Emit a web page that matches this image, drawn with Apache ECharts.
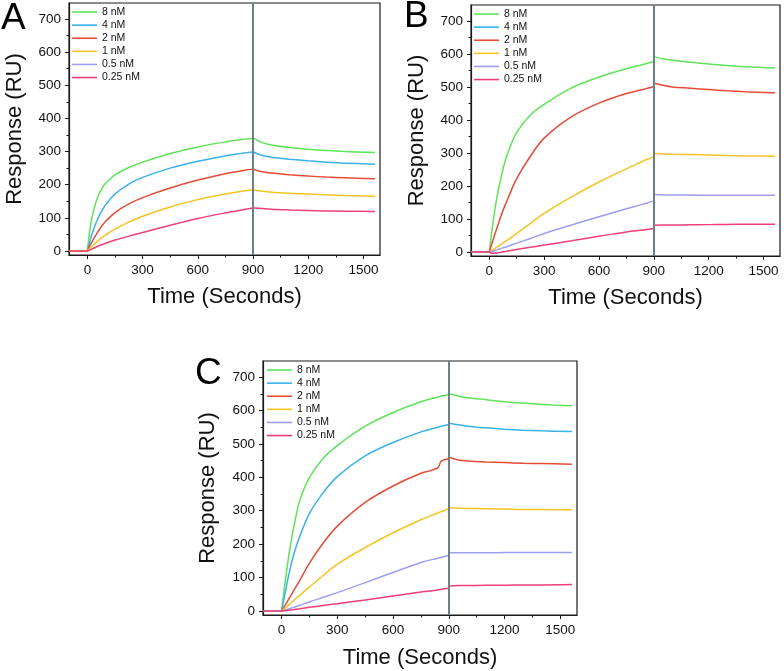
<!DOCTYPE html>
<html>
<head>
<meta charset="utf-8">
<script src="https://cdn.jsdelivr.net/npm/echarts@6/dist/echarts.min.js"></script>
<style>html,body{margin:0;padding:0;background:#fff;}#c{width:784px;height:671px;}</style>
</head>
<body>
<div id="c"></div>
<script>
// ---- data ----
// sample times (s): baseline [-100, 0], association [0 .. 900], dissociation [905 .. 1563]
const times = [-100, 0, 10, 20, 40, 60, 80, 100, 150, 225, 300, 450, 600, 750, 840, 860, 900, 905, 950, 1000, 1100, 1200, 1300, 1400, 1563];
const seriesNames = ['8 nM', '4 nM', '2 nM', '1 nM', '0.5 nM', '0.25 nM'];
const seriesColors = ['#5fe35a', '#38b2e8', '#e64b35', '#f5c322', '#9d9ef0', '#ee3f77'];
const xMajorTicks = [0, 300, 600, 900, 1200, 1500];
const xMinorTicks = [150, 450, 750, 1050, 1350];
const yMajorTicks = [0, 100, 200, 300, 400, 500, 600, 700];
const yMinorTicks = [50, 150, 250, 350, 450, 550, 650];
const injectionEnd = 900;

// Panel A
const a8   = [0, 0, 50, 88, 135, 168, 190, 205, 230, 252, 268, 294, 314, 329, 336, 337.5, 340, 340, 327, 320, 312, 307, 303, 300, 297];
const a4   = [0, 0, 22, 42, 75, 102, 123, 140, 172, 202, 222, 250, 271, 287, 294.5, 296, 299, 298, 288, 283, 277, 272, 268, 265, 262];
const a2   = [0, 0, 12, 23, 43, 61, 77, 90, 116, 142, 161, 190, 214, 233, 242, 244, 247, 246, 239, 235, 230, 226, 223, 221, 218];
const a1   = [0, 0, 6, 11.5, 22, 32, 41, 49, 66, 87, 105, 133, 155, 172, 180.5, 182, 185, 184, 180, 177, 174, 172, 169.5, 167.5, 165];
const a05  = null;
const a025 = [0, 0, 2.5, 5, 10, 15, 19.5, 23.5, 33, 45, 56, 78, 98, 115, 124, 126, 130, 130, 128, 126, 124, 122.5, 121, 120, 119];

// Panel B
const b8   = [0, 0, 45, 88, 160, 215, 262, 298, 362, 415, 447, 497, 530, 555, 568, 571, 577, 591, 585, 581, 575, 569, 565, 561, 557];
const b4   = null;
const b2   = [0, 0, 18, 36, 70, 103, 133, 160, 222, 290, 345, 410, 451, 480, 492, 495, 501, 511, 505, 500, 496, 492, 488, 485, 482];
const b1   = [0, 0, 3.5, 7, 14.5, 22, 29.5, 37, 56, 87, 117, 167, 212, 252, 275, 280, 289, 298, 297, 296, 295, 293.5, 292, 291, 290];
const b05  = [0, 0, 1.5, 3, 6.5, 10, 13.5, 17, 27, 41, 56, 82, 107, 131, 145, 148, 155, 174, 173, 173, 172.5, 172, 172, 172, 172];
const b025 = [0, 0, -3, -4, -3, -1, 1, 3, 8, 14.5, 21, 34, 48, 61, 66.5, 68, 71, 81, 82, 82, 82.5, 83, 83.5, 84, 84];

// Panel C
const c8   = [0, 0, 45, 90, 170, 235, 290, 335, 400, 458, 495, 553, 594, 626, 640, 643, 648, 650, 643, 638, 632, 626, 622, 618, 614];
const c4   = [0, 0, 28, 57, 112, 158, 195, 226, 292, 355, 402, 464, 504, 536, 550, 553, 558, 562, 557, 553, 548, 544, 541, 539, 537];
const c2   = [0, 0, 9, 18, 37, 56, 75, 94, 143, 204, 254, 325, 374, 412, 428, 449, 455, 459, 452, 449, 446, 444, 442, 441, 439];
const c1   = [0, 0, 4.5, 9, 19, 29, 39, 48, 72, 107, 140, 190, 234, 273, 293, 297.5, 306, 309, 308, 307, 306, 305, 304, 304, 303];
const c05  = [0, 0, 1.5, 3, 6.5, 10, 13.5, 17, 27, 41, 55, 85, 115, 145, 158, 161, 166, 174, 174, 174, 174, 175, 175, 175, 175];
const c025 = [0, 0, 0.5, 1, 2.5, 4, 5.5, 7, 11, 16.5, 22, 33, 45, 57, 63, 65, 68, 75, 76, 76, 77, 77, 78, 78, 79];

const panels = [
  { letter: 'A', data: [a8, a4, a2, a1, a05, a025] },
  { letter: 'B', data: [b8, b4, b2, b1, b05, b025] },
  { letter: 'C', data: [c8, c4, c2, c1, c05, c025] }
];

// ---- layout ----
const FONT = "'Liberation Sans', Arial, sans-serif";
const grids = [
  { left: 69, top: 3, width: 311, height: 252 },
  { left: 471, top: 5, width: 309, height: 251 },
  { left: 263, top: 361, width: 314, height: 254 }
];
const legendPos = [
  { left: 72, top: 5.5 },
  { left: 474, top: 7.5 },
  { left: 267, top: 363.5 }
];
const letterPos = [
  { x: 1, y: 0 },
  { x: 404, y: -2 },
  { x: 195, y: 355 }
];
const xNameGap = [31, 31, 32];
const yNameGap = [43, 43, 44];

const X_MIN = -100, X_MAX = 1590, Y_MIN = -12, Y_MAX = 748;
const AX = '#1a1a1a';
const plainNum = v => String(v);

// split each curve into baseline / association / dissociation pieces (breaks are hidden under the marker line / at t=0)
function buildData(arr) {
  const out = [];
  const iZero = times.indexOf(0);
  const iEnd = times.indexOf(injectionEnd);
  for (let j = 0; j <= iZero; j++) out.push([times[j], arr[j]]);
  out.push('-');
  for (let j = iZero; j <= iEnd; j++) out.push([times[j], arr[j]]);
  out.push('-');
  for (let j = iEnd + 1; j < times.length; j++) out.push([times[j], arr[j]]);
  return out;
}

const xAxes = [], yAxes = [], series = [], legends = [], graphics = [];
panels.forEach((p, i) => {
  xAxes.push({
    type: 'value', gridIndex: i, min: X_MIN, max: X_MAX, position: 'bottom',
    name: 'Time (Seconds)', nameLocation: 'middle', nameGap: xNameGap[i],
    nameTextStyle: { fontSize: 22, fontFamily: FONT, color: '#111' },
    axisLine: { show: true, onZero: false, lineStyle: { color: AX, width: 1.2 } },
    axisTick: { show: true, inside: false, length: 4, customValues: xMajorTicks, lineStyle: { color: AX, width: 1 } },
    axisLabel: { customValues: xMajorTicks, formatter: plainNum, fontSize: 13.5, fontFamily: FONT, color: '#111', margin: 8 },
    splitLine: { show: false }
  });
  xAxes.push({
    type: 'value', gridIndex: i, min: X_MIN, max: X_MAX, position: 'bottom',
    axisLine: { show: false, onZero: false },
    axisTick: { show: true, inside: false, length: 2.5, customValues: xMinorTicks, lineStyle: { color: AX, width: 1 } },
    axisLabel: { show: false },
    splitLine: { show: false }
  });
  yAxes.push({
    type: 'value', gridIndex: i, min: Y_MIN, max: Y_MAX, position: 'left',
    name: 'Response (RU)', nameLocation: 'middle', nameGap: yNameGap[i],
    nameTextStyle: { fontSize: 22, fontFamily: FONT, color: '#111' },
    axisLine: { show: true, onZero: false, lineStyle: { color: AX, width: 1.2 } },
    axisTick: { show: true, inside: false, length: 4, customValues: yMajorTicks, lineStyle: { color: AX, width: 1 } },
    axisLabel: { customValues: yMajorTicks, formatter: plainNum, fontSize: 13.5, fontFamily: FONT, color: '#111', margin: 8 },
    splitLine: { show: false }
  });
  yAxes.push({
    type: 'value', gridIndex: i, min: Y_MIN, max: Y_MAX, position: 'left',
    axisLine: { show: false, onZero: false },
    axisTick: { show: true, inside: false, length: 2.5, customValues: yMinorTicks, lineStyle: { color: AX, width: 1 } },
    axisLabel: { show: false },
    splitLine: { show: false }
  });

  let first = true;
  p.data.forEach((arr, k) => {
    if (!arr) return;
    const s = {
      type: 'line', name: seriesNames[k], xAxisIndex: i * 2, yAxisIndex: i * 2,
      data: buildData(arr), connectNulls: false,
      symbol: 'none', smooth: 0.35,
      lineStyle: { width: 1.5, color: seriesColors[k] },
      itemStyle: { color: seriesColors[k] },
      emphasis: { disabled: true }, animation: false
    };
    if (first) {
      s.markLine = {
        silent: true, symbol: ['none', 'none'], animation: false,
        label: { show: false },
        lineStyle: { color: '#6d7f86', width: 2, type: 'solid' },
        data: [{ xAxis: injectionEnd }]
      };
      first = false;
    }
    series.push(s);
  });

  legends.push({
    orient: 'vertical', left: legendPos[i].left, top: legendPos[i].top,
    data: seriesNames.slice(), icon: 'rect', itemWidth: 25, itemHeight: 1.6, itemGap: 0,
    selectedMode: false, padding: 0,
    textStyle: { fontSize: 10.5, fontFamily: FONT, color: '#111', lineHeight: 13.1 }
  });

  graphics.push({
    type: 'text', left: letterPos[i].x, top: letterPos[i].y,
    style: { text: p.letter, fontSize: 37, fontFamily: FONT, fill: '#000' }
  });
});

const chart = echarts.init(document.getElementById('c'), null, { renderer: 'canvas' });
chart.setOption({
  animation: false,
  backgroundColor: '#fff',
  color: seriesColors,
  grid: grids.map(g => Object.assign({ show: true, borderColor: AX, borderWidth: 1.2, backgroundColor: 'transparent', containLabel: false }, g)),
  xAxis: xAxes,
  yAxis: yAxes,
  legend: legends,
  series: series,
  graphic: graphics
});
</script>
</body>
</html>
